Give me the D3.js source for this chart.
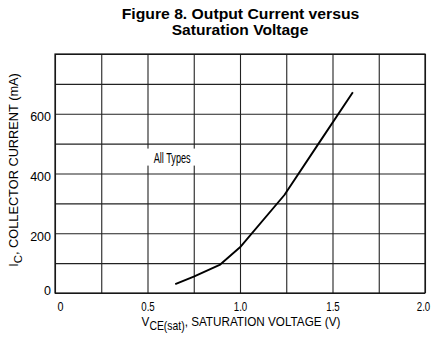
<!DOCTYPE html>
<html>
<head>
<meta charset="utf-8">
<script src="https://cdn.jsdelivr.net/npm/d3@7"></script>
<style>
  html, body { margin: 0; padding: 0; background: #fff; }
  svg { display: block; }
  text { font-family: "Liberation Sans", Arial, sans-serif; fill: #000; }
</style>
</head>
<body>
<svg id="chart" width="434" height="341"></svg>
<script>
// ---- data ----
const titleLines = ["Figure 8. Output Current versus", "Saturation Voltage"];
const xTickValues = [0, 0.5, 1.0, 1.5, 2.0];
const xTickLabels = ["0", "0.5", "1.0", "1.5", "2.0"];
const yTickValues = [0, 200, 400, 600];
const yTickLabels = ["0", "200", "400", "600"];
const xGridValues = [0, 0.25, 0.5, 0.75, 1.0, 1.25, 1.5, 1.75, 2.0];
const yGridValues = [0, 100, 200, 300, 400, 500, 600, 700, 800];
const voltage = [0.65, 0.75, 0.89, 1.0, 1.24, 1.43, 1.61];   // V_CE(sat), V
const current = [30, 55, 94, 153, 328, 505, 672];           // I_C, mA
const annotation = "All Types";
const annotationAt = [0.52, 470];

// ---- layout ----
const svg = d3.select("#chart");
const L = 55, R = 425, T = 54, B = 293;
const x = d3.scaleLinear().domain([0, 2]).range([L, R]);
const y = d3.scaleLinear().domain([0, 800]).range([B, T]);

// helper: draw a text and squeeze it horizontally to a target width
function fitText(g, parts, opts) {
  const t = g.append("text")
    .attr("text-anchor", "middle")
    .style("font-size", opts.size + "px")
    .style("font-weight", opts.weight || "normal");
  parts.forEach(p => {
    const ts = t.append("tspan").text(p.text);
    if (p.size) ts.style("font-size", p.size + "px");
    if (p.dy !== undefined) ts.attr("dy", p.dy);
  });
  const w = t.node().getBBox().width;
  const s = opts.width ? opts.width / w : 1;
  const rot = opts.rotate ? ` rotate(${opts.rotate})` : "";
  t.attr("transform", `translate(${opts.x},${opts.y})${rot} scale(${s},1)`);
  return t;
}

// grid
const grid = svg.append("g");
grid.append("g")
  .attr("transform", `translate(0,${B})`)
  .call(d3.axisBottom(x).tickValues(xGridValues).tickSize(-(B - T)).tickFormat(""))
  .call(g => g.select(".domain").remove())
  .call(g => g.selectAll("line").attr("stroke", "#222").attr("stroke-width", 1.1));
grid.append("g")
  .attr("transform", `translate(${L},0)`)
  .call(d3.axisLeft(y).tickValues(yGridValues).tickSize(-(R - L)).tickFormat(""))
  .call(g => g.select(".domain").remove())
  .call(g => g.selectAll("line").attr("stroke", "#222").attr("stroke-width", 1.1));

// frame
svg.append("rect")
  .attr("x", x(0)).attr("y", y(800))
  .attr("width", x(2) - x(0)).attr("height", y(0) - y(800))
  .attr("fill", "none").attr("stroke", "#111").attr("stroke-width", 1.2);

// annotation with white background
const ann = svg.append("g");
ann.append("rect")
  .attr("x", x(annotationAt[0]) - 6).attr("y", y(annotationAt[1]) - 4)
  .attr("width", 54).attr("height", 17).attr("fill", "#fff");
fitText(ann, [{ text: annotation }],
  { x: x(annotationAt[0]) + 21, y: y(annotationAt[1]) + 10, size: 14, width: 37 });

// curve
const line = d3.line().x((d, i) => x(voltage[i])).y((d, i) => y(current[i]));
svg.append("path")
  .datum(current)
  .attr("d", line)
  .attr("fill", "none")
  .attr("stroke", "#000")
  .attr("stroke-width", 1.9)
  .attr("stroke-linejoin", "round");

// x axis tick labels
const xShift = { "0": 5, "2.0": -2 };
svg.append("g")
  .attr("transform", `translate(0,${B})`)
  .call(d3.axisBottom(x).tickValues(xTickValues).tickSize(0).tickPadding(8)
    .tickFormat((d, i) => xTickLabels[i]))
  .call(g => g.select(".domain").remove())
  .call(g => g.selectAll(".tick text")
    .style("font-family", "'Liberation Sans', Arial, sans-serif")
    .style("font-size", "13.5px")
    .attr("fill", "#000")
    .each(function () {
      const tx = d3.select(this);
      const lab = tx.text();
      const w = this.getBBox().width;
      const target = lab.length === 1 ? 6 : 13.5;
      const dx = xShift[lab] || 0;
      tx.attr("transform", `translate(${dx},0) scale(${target / w},1)`);
    }));

// y axis tick labels
svg.append("g")
  .attr("transform", `translate(${L - 4},0)`)
  .call(d3.axisLeft(y).tickValues(yTickValues).tickSize(0).tickPadding(0)
    .tickFormat((d, i) => yTickLabels[i]))
  .call(g => g.select(".domain").remove())
  .call(g => g.selectAll(".tick text")
    .style("font-family", "'Liberation Sans', Arial, sans-serif")
    .style("font-size", "12.5px")
    .attr("fill", "#000")
    .attr("y", d => (d === 0 ? -3 : 3)));

// title
fitText(svg, [{ text: titleLines[0] }], { x: 240.5, y: 19, size: 14, weight: "bold", width: 238 });
fitText(svg, [{ text: titleLines[1] }], { x: 240, y: 35, size: 14, weight: "bold", width: 137 });

// x axis title
fitText(svg, [
  { text: "V" },
  { text: "CE(sat)", size: 12, dy: 3.5 },
  { text: ", SATURATION VOLTAGE (V)", dy: -3.5 }
], { x: 241, y: 326, size: 13.5, width: 199 });

// y axis title
fitText(svg, [
  { text: "I" },
  { text: "C", size: 11.5, dy: 3.5 },
  { text: ", COLLECTOR CURRENT (mA)", dy: -3.5 }
], { x: 18, y: 170, size: 13, width: 194, rotate: -90 });
</script>
</body>
</html>
